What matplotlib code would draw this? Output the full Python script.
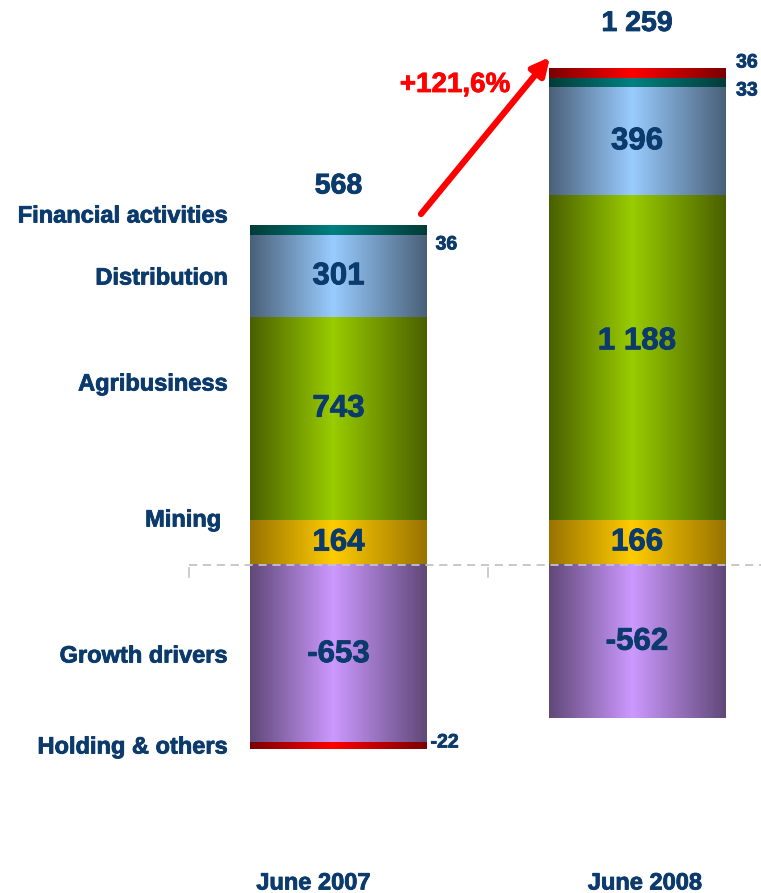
import numpy as np
import matplotlib
matplotlib.use('Agg')
import matplotlib.pyplot as plt
import matplotlib.patheffects as pe
from matplotlib.colors import LinearSegmentedColormap

# ---------------- data ----------------
periods = ['June 2007', 'June 2008']
mining = [164, 166]
agribusiness = [743, 1188]
distribution = [301, 396]
financial = [36, 33]
holding = [-22, 36]
growth_drivers = [-653, -562]
totals = ['568', '1 259']
growth_pct = '+121,6%'
segment_names = ['Financial activities', 'Distribution', 'Agribusiness',
                 'Mining ', 'Growth drivers', 'Holding & others']

# ---------------- styles ----------------
NAVY = '#0B3A6C'
grads = {
    'mining': ('#997300', '#FFCC00'),
    'agri': ('#4A6000', '#99CC00'),
    'dist': ('#4A6079', '#99CCFF'),
    'fin': ('#003C38', '#008080'),
    'hold': ('#7A0000', '#FF0000'),
    'growth': ('#604878', '#CC99FF'),
}
FONT = 'Liberation Sans'
BOLDER = [pe.withStroke(linewidth=0.6, foreground=NAVY)]

W, H = 761, 893
fig = plt.figure(figsize=(W / 100, H / 100), dpi=100)
ax = fig.add_axes([0, 0, 1, 1])
ax.axis('off')

# pixel-like layout mapping
S = 0.273          # px per unit
Y0 = 565           # zero line (px from top)
XS = 298.5         # px per category
X0 = 338.5         # first bar center px


def P(xp, yp):
    return (xp - X0) / XS, (Y0 - yp) / S


def grad_fill(rect, key):
    edge, center = grads[key]
    cmap = LinearSegmentedColormap.from_list(key, [(0, edge), (0.47, center), (1, edge)])
    x, y, w, h = rect.get_x(), rect.get_y(), rect.get_width(), rect.get_height()
    t = np.linspace(0, 1, 256)[None, :]
    ax.imshow(t, cmap=cmap, extent=(x, x + w, min(y, y + h), max(y, y + h)),
              aspect='auto', interpolation='bilinear', zorder=2)


def navy_text(xx, yy, s, size, **kw):
    return ax.text(xx, yy, s, fontsize=size, fontweight='bold', color=NAVY,
                   family=FONT, path_effects=BOLDER, **kw)


x = np.arange(len(periods))
width = 0.59

for i in range(len(periods)):
    pos_bottom = 0.0
    neg_bottom = 0.0
    segs = [('mining', mining[i]), ('agri', agribusiness[i]),
            ('dist', distribution[i]), ('fin', financial[i]),
            ('growth', growth_drivers[i]), ('hold', holding[i])]
    for key, v in segs:
        if v >= 0:
            b = ax.bar(x[i], v, width, bottom=pos_bottom, color='none', linewidth=0)[0]
            mid = pos_bottom + v * (0.55 if key == 'agri' else 0.5)
            pos_bottom += v
        else:
            b = ax.bar(x[i], v, width, bottom=neg_bottom, color='none', linewidth=0)[0]
            mid = neg_bottom + v / 2
            neg_bottom += v
        grad_fill(b, key)
        if key in ('mining', 'agri', 'dist', 'growth'):
            txt = f'{v:,}'.replace(',', ' ')
            navy_text(x[i], mid, txt, 22.5, ha='center', va='center', zorder=6)
    # total label
    ax.annotate(totals[i], xy=(x[i], pos_bottom), xytext=(0, 28 + 4 * i),
                textcoords='offset points', ha='center', va='center',
                fontsize=20.5, fontweight='bold', color=NAVY, family=FONT,
                path_effects=BOLDER)

# small side labels
right0 = x[0] + width / 2
right1 = x[1] + width / 2
dx = 9 / XS
navy_text(right0 + dx, P(0, 245)[1], f'{financial[0]}', 14, ha='left', va='center')
navy_text(right0 + dx - 5 / XS, P(0, 743)[1], f'{holding[0]}', 14, ha='left', va='center')
navy_text(right1 + dx + 2 / XS, P(0, 63)[1], f'{holding[1]}', 14, ha='left', va='center')
navy_text(right1 + dx + 2 / XS, P(0, 91)[1], f'{financial[1]}', 14, ha='left', va='center')

# left segment names
name_y = [216, 278, 384, 520, 656, 747]
for name, yp in zip(segment_names, name_y):
    xx, yy = P(228, yp)
    navy_text(xx, yy, name, 17, ha='right', va='center')

# category labels
for i, lab in enumerate(periods):
    navy_text(x[i] + (-25 if i == 0 else 8) / XS, P(0, 883)[1], lab, 17,
              ha='center', va='center')

# zero dashed line & ticks
xmin, xmax = P(0, 0)[0], P(W, 0)[0]
ax.plot([-0.5, xmax], [0, 0], color='#C4C4C4', lw=1.3, dashes=(4.5, 3.2), zorder=5)
for tx in (-0.5, 0.5):
    ax.plot([tx, tx], [P(0, 568)[1], P(0, 577)[1]], color='#C4C4C4', lw=1.2, zorder=5)

# growth arrow
ax.annotate('', xy=P(550, 57), xytext=P(421, 214),
            arrowprops=dict(arrowstyle='-|>', color='#FF0000', lw=4.5,
                            mutation_scale=26, shrinkA=0, shrinkB=0), zorder=7)
ax.text(*P(455, 85), growth_pct, ha='center', va='center', fontsize=20,
        fontweight='bold', color='#FF0000', family=FONT,
        path_effects=[pe.withStroke(linewidth=0.6, foreground='#FF0000')])

ax.set_xlim(xmin, xmax)
ax.set_ylim(-(H - Y0) / S, Y0 / S)
fig.savefig('out.png', dpi=100)
